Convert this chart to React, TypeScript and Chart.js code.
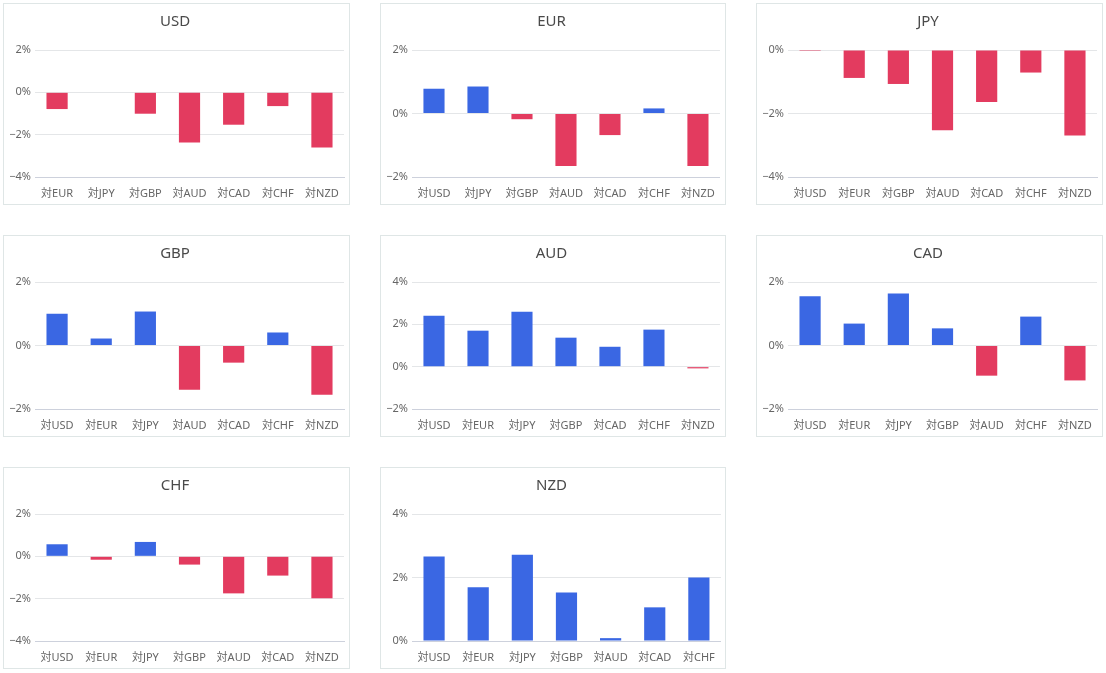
import React, { useEffect, useRef } from "react";
import { Chart, registerables } from "chart.js";

Chart.register(...registerables);

const currencies = ["USD", "EUR", "JPY", "GBP", "AUD", "CAD", "CHF", "NZD"];

const usdLabels = ["対EUR", "対JPY", "対GBP", "対AUD", "対CAD", "対CHF", "対NZD"];
const usdValues = [-0.79, 0, -1.01, -2.37, -1.53, -0.65, -2.61];

const eurLabels = ["対USD", "対JPY", "対GBP", "対AUD", "対CAD", "対CHF", "対NZD"];
const eurValues = [0.78, 0.85, -0.18, -1.65, -0.68, 0.16, -1.65];

const jpyLabels = ["対USD", "対EUR", "対GBP", "対AUD", "対CAD", "対CHF", "対NZD"];
const jpyValues = [-0.03, -0.88, -1.07, -2.53, -1.64, -0.71, -2.69];

const gbpLabels = ["対USD", "対EUR", "対JPY", "対AUD", "対CAD", "対CHF", "対NZD"];
const gbpValues = [1.0, 0.22, 1.07, -1.39, -0.54, 0.41, -1.55];

const audLabels = ["対USD", "対EUR", "対JPY", "対GBP", "対CAD", "対CHF", "対NZD"];
const audValues = [2.4, 1.7, 2.59, 1.37, 0.94, 1.75, -0.08];

const cadLabels = ["対USD", "対EUR", "対JPY", "対GBP", "対AUD", "対CHF", "対NZD"];
const cadValues = [1.55, 0.69, 1.64, 0.54, -0.95, 0.91, -1.1];

const chfLabels = ["対USD", "対EUR", "対JPY", "対GBP", "対AUD", "対CAD", "対NZD"];
const chfValues = [0.57, -0.16, 0.68, -0.39, -1.75, -0.91, -1.98];

const nzdLabels = ["対USD", "対EUR", "対JPY", "対GBP", "対AUD", "対CAD", "対CHF"];
const nzdValues = [2.66, 1.69, 2.72, 1.53, 0.09, 1.06, 2.0];

const allLabels = [usdLabels, eurLabels, jpyLabels, gbpLabels, audLabels, cadLabels, chfLabels, nzdLabels];
const allValues = [usdValues, eurValues, jpyValues, gbpValues, audValues, cadValues, chfValues, nzdValues];

// y-axis ranges (percent)
const yMins = [-4, -2, -4, -2, -2, -2, -4, 0];
const yMaxs = [2, 2, 0, 2, 4, 2, 2, 4];
const yStep = 2;

const POS_COLOR = "#3A67E3";
const NEG_COLOR = "#E33B5F";
const FONT = "'Noto Sans', 'Noto Sans CJK JP', sans-serif";

const colLefts = [3, 380, 756];
const colWidths = [347, 346, 347];
const rowTops = [3, 235, 467];
const panelHeight = 202;

function Panel(props: { idx: number }) {
  const { idx } = props;
  const ref = useRef<HTMLCanvasElement | null>(null);
  useEffect(() => {
    if (!ref.current) return;
    const values = allValues[idx];
    const chart = new Chart(ref.current, {
      type: "bar",
      data: {
        labels: allLabels[idx],
        datasets: [
          {
            data: values,
            backgroundColor: values.map((v) => (v >= 0 ? POS_COLOR : NEG_COLOR)),
            barPercentage: 0.6,
            categoryPercentage: 0.8,
          },
        ],
      },
      options: {
        animation: false,
        responsive: false,
        maintainAspectRatio: false,
        layout: { padding: { left: 0, right: 3, top: 0, bottom: 0 } },
        plugins: {
          legend: { display: false },
          tooltip: { enabled: false },
          title: {
            display: true,
            text: currencies[idx],
            color: "#4a4a4a",
            font: { family: FONT, size: 15, weight: "normal" },
            padding: { top: 9, bottom: 19 },
          },
        },
        scales: {
          x: {
            afterFit: (scale: any) => {
              scale.height = 27;
            },
            grid: { display: false, drawTicks: false },
            border: { display: true, color: "#cdd1dc" },
            ticks: {
              color: "#666",
              font: { family: FONT, size: 11 },
              padding: 10,
              maxRotation: 0,
              autoSkip: false,
            },
          },
          y: {
            min: yMins[idx],
            max: yMaxs[idx],
            afterFit: (scale: any) => {
              scale.width = 31;
            },
            grid: { color: "#e4e6e8", drawTicks: false },
            border: { display: false },
            ticks: {
              stepSize: yStep,
              color: "#666",
              padding: 4,
              font: { family: FONT, size: 11 },
              callback: (v: any) => `${Number(v) < 0 ? "−" + Math.abs(Number(v)) : v}%`,
            },
          },
        },
      },
    });
    return () => chart.destroy();
  }, [idx]);

  const row = Math.floor(idx / 3);
  const col = idx % 3;
  const w = colWidths[col];
  return (
    <div
      style={{
        position: "absolute",
        left: colLefts[col],
        top: rowTops[row],
        width: w,
        height: panelHeight,
        boxSizing: "border-box",
        border: "1px solid #dfe6e6",
        background: "#fff",
      }}
    >
      <canvas ref={ref} width={w - 2} height={panelHeight - 2} style={{ display: "block" }} />
    </div>
  );
}

export default function App() {
  return (
    <div style={{ position: "fixed", left: 0, top: 0, width: 1106, height: 673, background: "#fff" }}>
      {currencies.map((_, i) => (
        <Panel key={i} idx={i} />
      ))}
    </div>
  );
}
